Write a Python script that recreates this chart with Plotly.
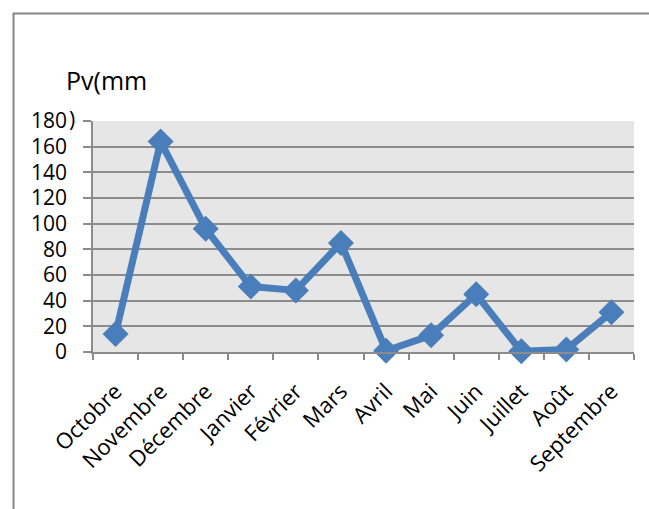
import plotly.graph_objects as go

# Monthly precipitation, hydrological year October -> September
months = ["Octobre", "Novembre", "Décembre", "Janvier", "Février", "Mars",
          "Avril", "Mai", "Juin", "Juillet", "Août", "Septembre"]
pv_mm = [14, 164, 96, 51, 48, 85, 1, 13, 45, 0.5, 2, 31]
y_ticks = list(range(0, 181, 20))

W, H = 649, 509
L, R, T, B = 93, 15, 121, 157
pw, ph = W - L - R, H - T - B

def px_x(px):
    return (px - L) / pw

def px_y(py):
    return (H - B - py) / ph

line_blue = "#4a7ebb"
grid_gray = "#8c8c8c"
family = "Open Sans, DejaVu Sans, sans-serif"
font_y = dict(family=family, size=21, color="#000000")
font_x = dict(family=family, size=22, color="#000000")

fig = go.Figure(go.Scatter(
    x=months, y=pv_mm, mode="lines+markers",
    line=dict(color=line_blue, width=7),
    marker=dict(symbol="diamond", size=20, color=line_blue),
    cliponaxis=False, showlegend=False,
))

fig.update_layout(
    width=W, height=H,
    margin=dict(l=L, r=R, t=T, b=B),
    paper_bgcolor="white",
    plot_bgcolor="#e6e6e6",
    font=font_y,
    xaxis=dict(
        type="category", tickangle=-45, ticks="outside", ticklen=6,
        tickson="boundaries", tickcolor=grid_gray, tickwidth=1.5,
        showline=True, linecolor=grid_gray, linewidth=1.5,
        showgrid=False, tickfont=font_x, range=[-0.5, 11.5],
        ticklabelstandoff=16,
    ),
    yaxis=dict(
        range=[0, 180], tickvals=y_ticks, ticks="outside", ticklen=8,
        tickcolor=grid_gray, tickwidth=1.5,
        showline=True, linecolor=grid_gray, linewidth=1.5,
        showgrid=True, gridcolor=grid_gray, gridwidth=1.5,
        zeroline=False, tickfont=font_y, ticklabelstandoff=12,
    ),
    shapes=[dict(
        type="rect", xref="paper", yref="paper",
        x0=px_x(13.5), x1=px_x(665), y0=px_y(525), y1=px_y(13.5),
        line=dict(color="#878787", width=2), fillcolor="rgba(0,0,0,0)",
        layer="below",
    )],
    annotations=[
        dict(text="Pv(mm", xref="paper", yref="paper",
             x=px_x(64), y=px_y(80), xanchor="left", yanchor="middle",
             showarrow=False, font=dict(family=family, size=25)),
        dict(text=")", xref="paper", yref="paper",
             x=px_x(67), y=px_y(119), xanchor="left", yanchor="middle",
             showarrow=False, font=font_y),
    ],
)

fig.write_html("out.html")
